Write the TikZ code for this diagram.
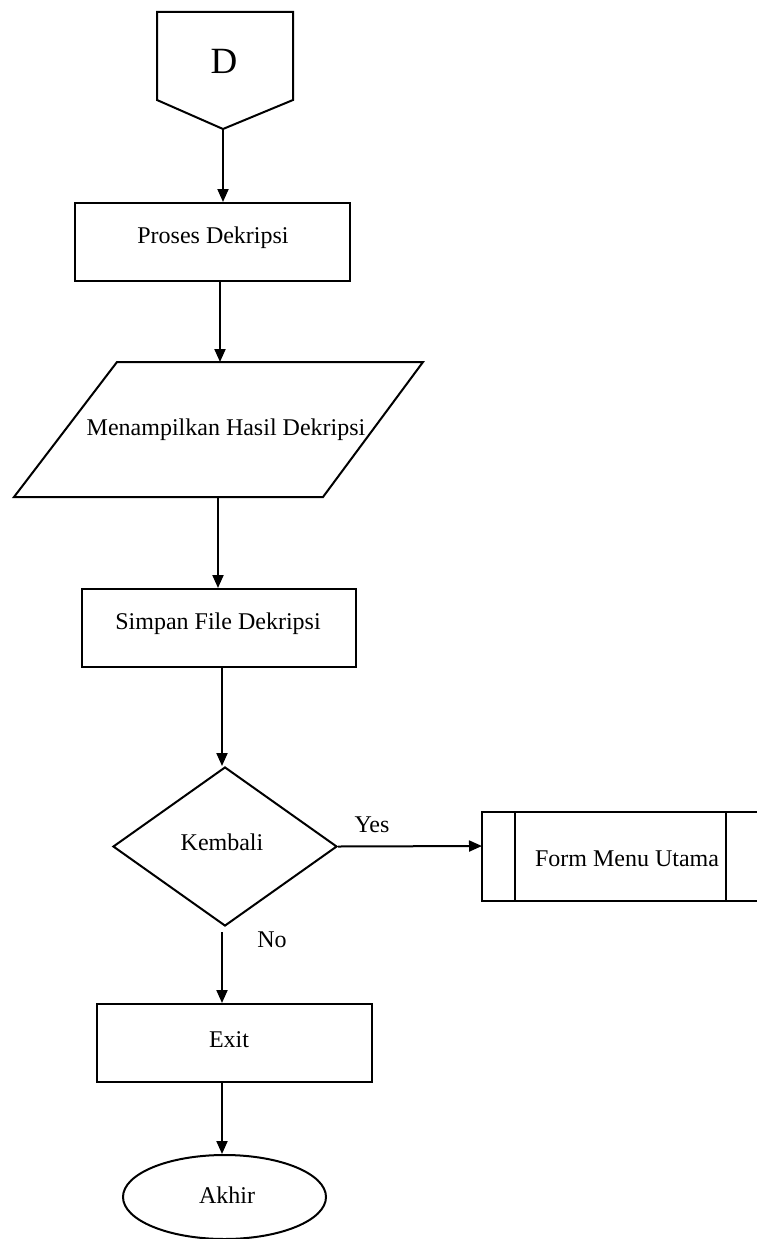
\documentclass[tikz,border=0pt]{standalone}
\usepackage{fontspec}
\setmainfont{Liberation Serif}
\usetikzlibrary{shapes.geometric,arrows.meta,calc}

\tikzset{
  every picture/.style={line width=2pt},
  box/.style={draw, rectangle, inner sep=0pt},
  label/.style={font=\fontsize{24}{28}\selectfont, inner sep=0pt},
  flow/.style={-{Triangle[length=13pt,width=11pt]}},
}

\begin{document}
\begin{tikzpicture}[x=1pt,y=-1pt]
  \clip (0,0) rectangle (757,1239);
  \path[use as bounding box] (0,0) rectangle (757,1239);

  % off-page connector
  \coordinate (dtl) at (157,12);
  \coordinate (dtr) at (293,12);
  \coordinate (dbl) at (157,100);
  \coordinate (dbr) at (293,100);
  \coordinate (dtip) at (223,129);
  \draw[line join=miter] (dtl) -- (dtr) -- (dbr) -- (dtip) -- (dbl) -- cycle;
  \node[label, font=\fontsize{37}{40}\selectfont] (dlabel) at (224,61) {D};

  % process: decryption
  \node[box, label, minimum width=275pt, minimum height=78pt] (proses) at (212.5,242) {};
  \node[label] (prosestxt) at (213,238) {Proses Dekripsi};

  % output parallelogram
  \coordinate (ptl) at (117,362);
  \coordinate (ptr) at (423,362);
  \coordinate (pbr) at (323,497);
  \coordinate (pbl) at (14,497);
  \draw[line join=miter] (ptl) -- (ptr) -- (pbr) -- (pbl) -- cycle;
  \node[label] (tampil) at (226,430) {Menampilkan Hasil Dekripsi};

  % save file
  \node[box, label, minimum width=274pt, minimum height=78pt] (simpan) at (219,628) {};
  \node[label] (simpantxt) at (218,624) {Simpan File Dekripsi};

  % decision
  \node[draw, diamond, inner sep=0pt, minimum width=224pt, minimum height=159pt] (kembali) at (225,846.5) {};
  \node[label] (kembalitxt) at (222,842) {Kembali};

  % predefined process (runs off the right edge)
  \draw (770,812) -| (482,901) -- (770,901);
  \draw (515,812) -- (515,901);
  \draw (726,812) -- (726,901);
  \coordinate (formleft) at (482,846);
  \node[label] (form) at (627,859) {Form Menu Utama};

  % exit
  \node[box, label, minimum width=275pt, minimum height=78pt] (exit) at (234.5,1043) {};
  \node[label] (exittxt) at (229,1040) {Exit};

  % terminator
  \node[draw, ellipse, inner sep=0pt, minimum width=203pt, minimum height=84pt] (akhir) at (224.5,1197) {};
  \node[label] (akhirtxt) at (227,1195) {Akhir};

  % connectors
  \coordinate (sp2) at (220,0);
  \coordinate (sp3) at (218,0);
  \coordinate (sp4) at (222,0);
  \draw[flow] (dtip) -- (dtip |- proses.north);
  \draw[flow] (proses.south -| sp2) -- (ptl -| sp2);
  \draw[flow] (pbl -| sp3) -- (simpan.north -| sp3);
  \draw[flow] (simpan.south -| sp4) -- (kembali.north -| sp4);
  \draw[flow] (kembali.east) -- (formleft);
  \draw[flow] ($(kembali.south -| sp4)+(0,5)$) -- (exit.north -| sp4);
  \draw[flow] (exit.south -| sp4) -- (akhir.north -| sp4);

  % branch labels
  \node[label] (yes) at (372,825) {Yes};
  \node[label] (no) at (272,940) {No};
\end{tikzpicture}
\end{document}
